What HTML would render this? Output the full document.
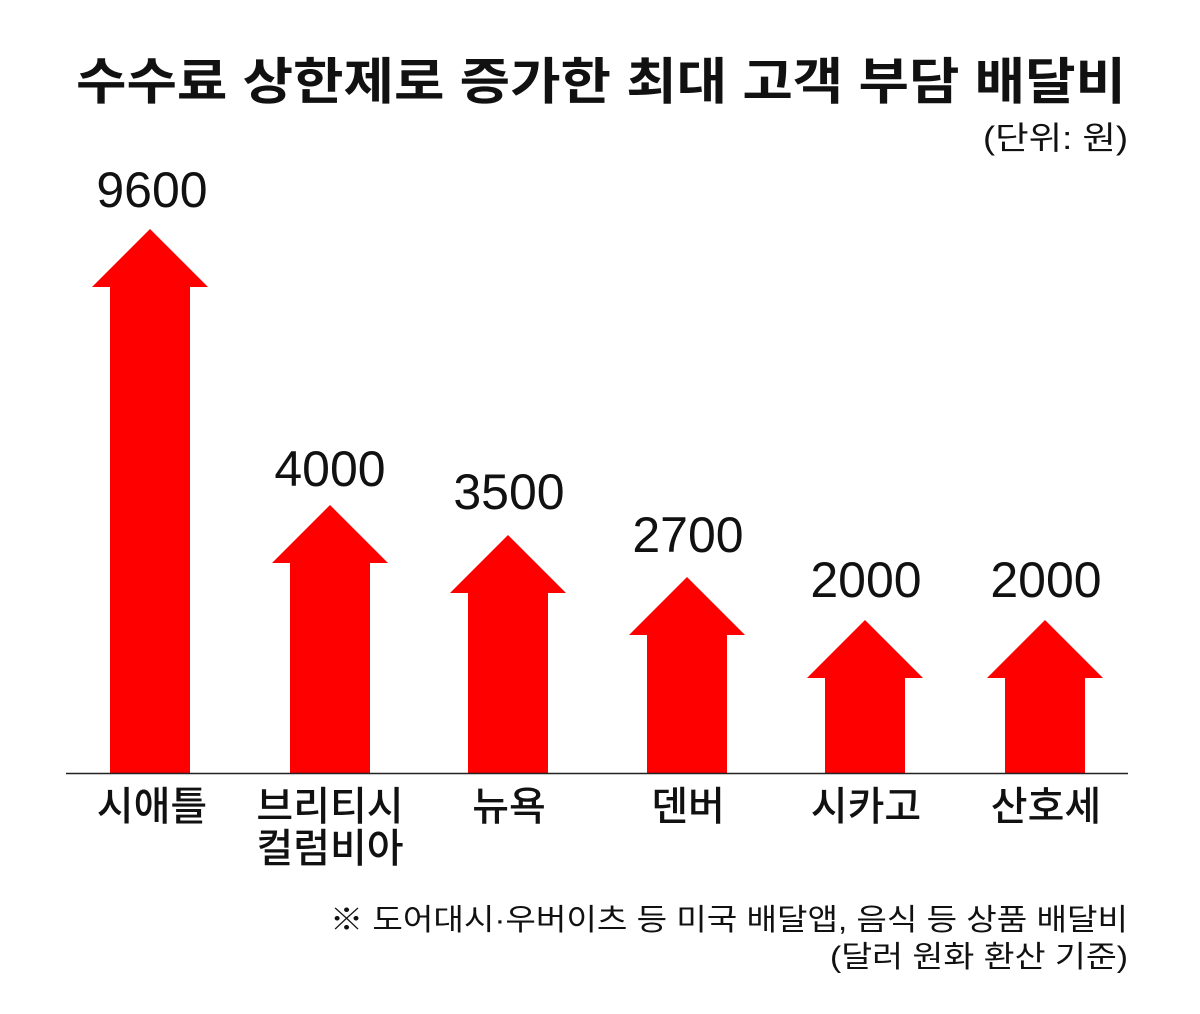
<!DOCTYPE html>
<html><head><meta charset="utf-8"><style>
body{margin:0;background:#fff;}
svg{display:block;}
text{font-family:"Liberation Sans","Noto Sans CJK KR",sans-serif;fill:#111;}
</style></head><body>
<svg width="1200" height="1014" viewBox="0 0 1200 1014">
<rect width="1200" height="1014" fill="#fff"/>
<text x="76" y="99" font-size="50" font-weight="bold" textLength="1050" lengthAdjust="spacingAndGlyphs" font-family="'Noto Sans CJK KR',sans-serif">수수료 상한제로 증가한 최대 고객 부담 배달비</text>
<text x="983" y="149" font-size="32" textLength="145" lengthAdjust="spacingAndGlyphs" font-family="'Noto Sans CJK KR',sans-serif">(단위: 원)</text>
<g fill="#ff0000">
<polygon points="150,229 208,287 190,287 190,773 110,773 110,287 92,287"/>
<polygon points="330,505 388,563 370,563 370,773 290,773 290,563 272,563"/>
<polygon points="508,535 566,593 548,593 548,773 468,773 468,593 450,593"/>
<polygon points="687,577 745,635 727,635 727,773 647,773 647,635 629,635"/>
<polygon points="865,620 923,678 905,678 905,773 825,773 825,678 807,678"/>
<polygon points="1045,620 1103,678 1085,678 1085,773 1005,773 1005,678 987,678"/>
</g>
<line x1="66" y1="773.5" x2="1128" y2="773.5" stroke="#222" stroke-width="1.5"/>
<g font-size="50" text-anchor="middle">
<text x="152" y="207">9600</text>
<text x="330" y="486">4000</text>
<text x="509" y="509">3500</text>
<text x="688" y="552">2700</text>
<text x="866" y="597">2000</text>
<text x="1046" y="597">2000</text>
</g>
<g font-size="40" text-anchor="middle" font-weight="500" font-family="'Noto Sans CJK KR',sans-serif">
<text x="152" y="820">시애틀</text>
<text x="330" y="820">브리티시</text>
<text x="330" y="862">컬럼비아</text>
<text x="509" y="820">뉴욕</text>
<text x="688" y="820">덴버</text>
<text x="866" y="820">시카고</text>
<text x="1046" y="820">산호세</text>
</g>
<g font-size="30" font-family="'Noto Sans CJK KR',sans-serif">
<text x="330" y="930" textLength="798" lengthAdjust="spacingAndGlyphs">※ 도어대시·우버이츠 등 미국 배달앱, 음식 등 상품 배달비</text>
<text x="830" y="967" textLength="298" lengthAdjust="spacingAndGlyphs">(달러 원화 환산 기준)</text>
</g>
</svg>
</body></html>
